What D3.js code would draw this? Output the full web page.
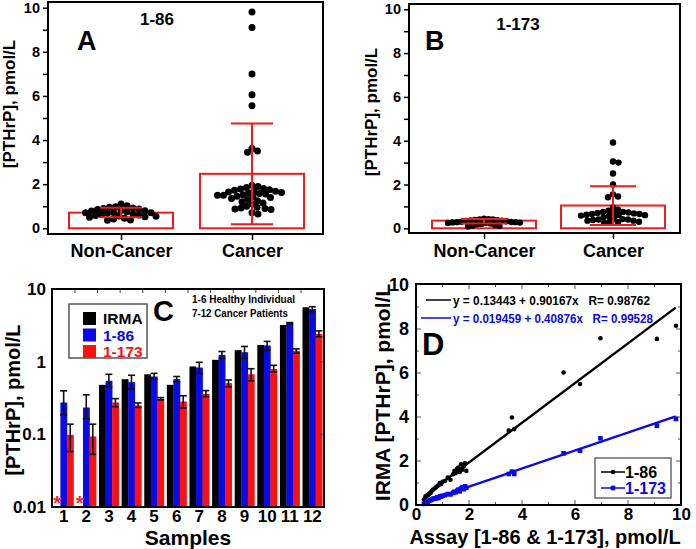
<!DOCTYPE html>
<html><head><meta charset="utf-8">
<script src="https://cdn.jsdelivr.net/npm/d3@7"></script>
<style>
html,body{margin:0;padding:0;background:#fff;}
svg{display:block;}
text{font-family:"Liberation Sans",Arial,sans-serif;font-weight:bold;}
</style></head>
<body><svg id="c" width="696" height="549"></svg>
<script>
// ---------- DATA ----------
// Panel A (1-86)
const groupsAB = ["Non-Cancer", "Cancer"];
const aNonCancer = [1.1,1.02,0.98,0.95,0.92,0.9,0.88,0.85,0.82,0.8,0.78,0.75,0.72,0.7,0.7,0.68,0.65,0.62,0.6,0.58,0.56,0.55,0.52,0.5,0.45,0.42,0.38,0.36];
const aCancer = [9.8,9.1,7.0,6.05,5.55,3.62,3.5,3.45,1.95,1.9,1.85,1.8,1.78,1.75,1.72,1.7,1.68,1.65,1.62,1.6,1.58,1.55,1.52,1.5,1.5,1.45,1.42,1.4,1.35,1.3,1.25,1.2,1.15,1.1,1.0,0.95,0.92,0.9,0.88,0.85,0.7,0.65];
const aMean = [0.71, 2.47];
const aErrLo = [0.5, 0.18];
const aErrHi = [0.93, 4.75];
// Panel B (1-173)
const bNonCancer = [0.44,0.42,0.4,0.4,0.38,0.37,0.36,0.35,0.33,0.32,0.3,0.29,0.28,0.28,0.27,0.26,0.25,0.24,0.22,0.2,0.18,0.15,0.12,0.1,0.08];
const bCancer = [3.92,3.05,3.0,2.5,2.0,1.55,1.45,1.42,0.95,0.85,0.8,0.75,0.75,0.72,0.7,0.7,0.68,0.65,0.65,0.62,0.6,0.6,0.58,0.55,0.5,0.45,0.42,0.4,0.4,0.38,0.35,0.35,0.3,0.3,0.28,0.25];
const bMean = [0.35, 1.04];
const bErrLo = [0.22, 0.15];
const bErrHi = [0.42, 1.92];
const yTicksAB = [0, 2, 4, 6, 8, 10];
// Panel C
const samples = ["1","2","3","4","5","6","7","8","9","10","11","12"];
const seriesC = ["IRMA", "1-86", "1-173"];
const irma   = [null, null, 0.48, 0.574, 0.67, 0.48, 0.86, 1.06, 1.44, 1.70, 3.2, 5.6];
const c186   = [0.274, 0.234, 0.545, 0.522, 0.625, 0.575, 0.83, 1.24, 1.35, 1.67, 3.38, 5.3];
const c186Lo = [0.186, 0.164, 0.45, 0.42, 0.575, 0.53, 0.69, 1.11, 1.11, 1.44, 3.3, 4.9];
const c186Hi = [0.397, 0.35, 0.67, 0.65, 0.69, 0.625, 0.98, 1.38, 1.62, 1.9, 3.45, 5.7];
const c173   = [0.0986, 0.0936, 0.274, 0.25, 0.308, 0.283, 0.36, 0.506, 0.67, 0.79, 1.41, 2.41];
const c173Lo = [0.058, 0.053, 0.24, 0.235, 0.297, 0.23, 0.33, 0.45, 0.545, 0.72, 1.31, 2.2];
const c173Hi = [0.138, 0.138, 0.31, 0.27, 0.32, 0.34, 0.4, 0.56, 0.8, 0.89, 1.5, 2.65];
const yTicksC = [0.01, 0.1, 1, 10];
const yTickLabelsC = ["0.01", "0.1", "1", "10"];
// Panel D
const dX    = [0.3,0.35,0.4,0.45,0.5,0.55,0.6,0.65,0.7,0.75,0.8,0.85,0.9,0.95,1.0,1.1,1.2,1.3,1.4,1.45,1.5,1.55,1.6,1.65,1.7,1.75,1.8,1.85,1.9,3.5,3.62,3.71,5.57,6.19,6.96,9.09,9.81];
const dY186 = [0.25,0.35,0.4,0.45,0.5,0.55,0.65,0.7,0.75,0.8,0.85,0.9,1.0,0.95,1.05,1.1,1.25,1.15,1.4,1.55,1.45,1.65,1.7,1.5,1.85,1.6,1.75,1.9,1.55,3.38,3.98,3.45,6.02,5.5,7.58,7.55,8.15];
const dY173 = [0.05,0.1,0.12,0.15,0.2,0.22,0.25,0.28,0.3,0.3,0.35,0.32,0.4,0.38,0.42,0.45,0.5,0.48,0.55,0.6,0.58,0.65,0.7,0.62,0.75,0.8,0.72,0.85,0.78,1.41,1.52,1.41,2.35,2.47,3.03,3.6,3.91];
const fitIntercept = [0.13443, 0.019459];
const fitSlope = [0.90167, 0.40876];
const fitRange = [0.3, 9.8];
const fitLabels = ["y = 0.13443 + 0.90167x   R= 0.98762", "y = 0.019459 + 0.40876x   R= 0.99528"];
const seriesD = ["1-86", "1-173"];
const ticksD = [0, 2, 4, 6, 8, 10];

// ---------- DRAW ----------
const svg = d3.select("#c");
const RED = "#ee1c1c", BLUE = "#0a0ae6";
const LETTER_FONT = "Lato, 'Open Sans', sans-serif";

function swarm(vals, y, cx, r, f) {
  const pts = vals.map(v => ({v, y: y(v)})).sort((a, b) => b.v - a.v);
  const placed = [];
  const d2 = (2 * r * f) ** 2;
  pts.forEach(p => {
    for (let dx = 0; dx < 200; dx += 0.5) {
      let ok = false;
      for (const s of (dx === 0 ? [0] : [dx, -dx])) {
        const x = cx + s;
        if (placed.every(q => (q.x - x) ** 2 + (q.y - p.y) ** 2 >= d2)) { p.x = x; ok = true; break; }
      }
      if (ok) break;
    }
    placed.push(p);
  });
  return placed;
}

function boxPanel(opt) {
  const g = svg.append("g");
  const y = d3.scaleLinear().domain([0, 10]).range([opt.y0, opt.y10]);
  const x = d3.scalePoint().domain(groupsAB).range(opt.xc);
  const ya = d3.axisLeft(y).tickValues(d3.range(0, 11, 1)).tickSize(5)
    .tickFormat(d => yTicksAB.includes(d) ? d : "");
  const yg = g.append("g").attr("transform", `translate(${opt.left},0)`).call(ya);
  const xa = d3.axisBottom(x).tickSize(6).tickFormat(d => d);
  const xg = g.append("g").attr("transform", `translate(0,${opt.bottom})`).call(xa);
  [yg, xg].forEach(a => { a.select(".domain").remove(); a.selectAll("line").attr("stroke", "#000").attr("stroke-width", 1.5); });
  yg.selectAll("text").attr("font-size", 14.5).attr("font-weight", "bold").attr("fill", "#000").attr("x", -8)
    .attr("font-family", "Liberation Sans, Arial");
  xg.selectAll("text").attr("font-size", 18).attr("font-weight", "bold").attr("fill", "#000").attr("dy", opt.xdy)
    .attr("font-family", "Liberation Sans, Arial");
  g.append("rect").attr("x", opt.left).attr("y", opt.top).attr("width", opt.right - opt.left).attr("height", opt.bottom - opt.top)
    .attr("fill", "none").attr("stroke", "#000").attr("stroke-width", 2);
  groupsAB.forEach((gname, i) => {
    g.append("rect").attr("x", x(gname) - opt.bw / 2).attr("y", y(opt.mean[i])).attr("width", opt.bw)
      .attr("height", y(0) - y(opt.mean[i])).attr("fill", "none").attr("stroke", RED).attr("stroke-width", 2);
  });
  [opt.non, opt.can].forEach((vals, i) => {
    const pts = swarm(vals, y, x(groupsAB[i]), opt.r, opt.f[i]);
    g.selectAll(null).data(pts).enter().append("circle").attr("cx", d => d.x).attr("cy", d => d.y).attr("r", opt.r).attr("fill", "#000");
  });
  groupsAB.forEach((gname, i) => {
    const cx = x(gname);
    g.append("line").attr("x1", cx).attr("x2", cx).attr("y1", y(opt.lo[i])).attr("y2", y(opt.hi[i])).attr("stroke", RED).attr("stroke-width", 2);
    [opt.lo[i], opt.hi[i]].forEach(v => g.append("line").attr("x1", cx - opt.cap / 2).attr("x2", cx + opt.cap / 2)
      .attr("y1", y(v)).attr("y2", y(v)).attr("stroke", RED).attr("stroke-width", 2));
  });
  g.append("text").attr("transform", `translate(${opt.ylabX},${opt.ylabY}) rotate(-90)`)
    .attr("text-anchor", "middle").attr("font-size", 17).text("[PTHrP], pmol/L");
  g.append("text").attr("x", opt.titleX).attr("y", opt.titleY).attr("text-anchor", "middle").attr("font-size", 17).text(opt.title);
  g.append("text").attr("x", opt.letterX).attr("y", 50).attr("font-size", 27).attr("font-family", LETTER_FONT)
    .attr("font-weight", 900).text(opt.letter);
}

boxPanel({left: 48, right: 323, top: 2, bottom: 234, y0: 228.3, y10: 7.7, xc: [121, 252], bw: 104, cap: 42, r: 3.5, f: [0.85, 0.82],
  non: aNonCancer, can: aCancer, mean: aMean, lo: aErrLo, hi: aErrHi, ylabX: 15, ylabY: 104, title: "1-86", titleX: 157, titleY: 25,
  letter: "A", letterX: 77, xdy: "0.8em"});
boxPanel({left: 409, right: 680, top: 4, bottom: 233, y0: 228.3, y10: 9.3, xc: [484, 613], bw: 104, cap: 46, r: 3.2, f: [0.7, 0.85],
  non: bNonCancer, can: bCancer, mean: bMean, lo: bErrLo, hi: bErrHi, ylabX: 377, ylabY: 112, title: "1-173", titleX: 518, titleY: 30,
  letter: "B", letterX: 425, xdy: "0.85em"});

// ---------- Panel C ----------
(function () {
  const L = 52, R = 324, T = 289, B = 507;
  const g = svg.append("g");
  const y = d3.scaleLog().domain([0.01, 10]).range([B, T]);
  const x = d3.scaleBand().domain(samples).range([L, R]).paddingInner(0.13).paddingOuter(0.08);
  const xs = d3.scaleBand().domain(seriesC).range([0, x.bandwidth()]);
  const col = d3.scaleOrdinal().domain(seriesC).range(["#000000", BLUE, "#ff1010"]);
  const vals = [irma, c186, c173];
  const rows = [];
  samples.forEach((s, i) => seriesC.forEach((k, j) => { if (vals[j][i] != null) rows.push({s, k, v: vals[j][i]}); }));
  g.selectAll(null).data(rows).enter().append("rect")
    .attr("x", d => x(d.s) + xs(d.k)).attr("width", xs.bandwidth() + 0.3)
    .attr("y", d => y(d.v)).attr("height", d => y(0.01) - y(d.v)).attr("fill", d => col(d.k));
  const errs = [];
  samples.forEach((s, i) => {
    errs.push({s, k: "1-86", lo: c186Lo[i], hi: c186Hi[i]});
    errs.push({s, k: "1-173", lo: c173Lo[i], hi: c173Hi[i]});
  });
  errs.forEach(e => {
    const cx = x(e.s) + xs(e.k) + xs.bandwidth() / 2;
    g.append("line").attr("x1", cx).attr("x2", cx).attr("y1", y(e.lo)).attr("y2", y(e.hi)).attr("stroke", "#111").attr("stroke-width", 1.6);
    [e.lo, e.hi].forEach(v => g.append("line").attr("x1", cx - 3.5).attr("x2", cx + 3.5).attr("y1", y(v)).attr("y2", y(v))
      .attr("stroke", "#111").attr("stroke-width", 1.6));
  });
  ["1", "2"].forEach(s => g.append("text").attr("x", x(s) + xs("IRMA") + xs.bandwidth() / 2).attr("y", B + 3)
    .attr("text-anchor", "middle").attr("fill", "#ff2020").attr("font-size", 20).text("*"));
  const ya = d3.axisLeft(y).tickValues(yTicksC).tickSize(0).tickFormat((d, i) => yTickLabelsC[i]);
  const yg = g.append("g").attr("transform", `translate(${L},0)`).call(ya);
  yg.select(".domain").remove();
  yg.selectAll("text").attr("font-size", 17).attr("fill", "#000").attr("x", -6).attr("font-family", "Liberation Sans, Arial").attr("font-weight", "bold");
  const xa = d3.axisBottom(x).tickSize(0);
  const xg = g.append("g").attr("transform", `translate(0,${B})`).call(xa);
  xg.select(".domain").remove();
  xg.selectAll("text").attr("font-size", 17).attr("fill", "#000").attr("dy", "0.7em").attr("font-family", "Liberation Sans, Arial").attr("font-weight", "bold");
  g.selectAll(null).data(samples.slice(1)).enter().append("line")
    .attr("x1", d => x(d) - x.step() * x.paddingInner() / 2).attr("x2", d => x(d) - x.step() * x.paddingInner() / 2)
    .attr("y1", T).attr("y2", T + 4).attr("stroke", "#444").attr("stroke-width", 1);
  g.selectAll(null).data([0.1, 1]).enter().append("line").attr("x1", R - 4).attr("x2", R).attr("y1", d => y(d)).attr("y2", d => y(d))
    .attr("stroke", "#444").attr("stroke-width", 1);
  g.append("rect").attr("x", L).attr("y", T).attr("width", R - L).attr("height", B - T).attr("fill", "none").attr("stroke", "#000").attr("stroke-width", 2);
  g.append("text").attr("transform", `translate(20,${(T + B) / 2 + 2}) rotate(-90)`).attr("text-anchor", "middle").attr("font-size", 20).text("[PTHrP], pmol/L");
  g.append("text").attr("x", (L + R) / 2).attr("y", 545).attr("text-anchor", "middle").attr("font-size", 21).text("Samples");
  g.append("text").attr("x", 153).attr("y", 321).attr("font-size", 29).attr("font-family", LETTER_FONT).attr("font-weight", 900).text("C");
  g.append("text").attr("x", 192).attr("y", 303).attr("font-size", 11).attr("font-family", LETTER_FONT).attr("font-weight", 700)
    .attr("textLength", 103).attr("lengthAdjust", "spacingAndGlyphs").text("1-6 Healthy Individual");
  g.append("text").attr("x", 192).attr("y", 317).attr("font-size", 11).attr("font-family", LETTER_FONT).attr("font-weight", 700)
    .attr("textLength", 96).attr("lengthAdjust", "spacingAndGlyphs").text("7-12 Cancer Patients");
  const lg = g.append("g").attr("transform", "translate(69,304)");
  lg.append("rect").attr("width", 78).attr("height", 54).attr("fill", "#fff").attr("stroke", "#555").attr("stroke-width", 1.5);
  seriesC.forEach((k, i) => {
    lg.append("rect").attr("x", 14).attr("y", 8 + i * 16.5).attr("width", 13).attr("height", 13).attr("fill", col(k));
    lg.append("text").attr("x", 34).attr("y", 20 + i * 16.5).attr("font-size", 15.5).attr("fill", i === 0 ? "#000" : col(k)).text(k);
  });
})();

// ---------- Panel D ----------
(function () {
  const L = 416, R = 681, T = 284, B = 505;
  const g = svg.append("g");
  const x = d3.scaleLinear().domain([0, 10]).range([L, R]);
  const y = d3.scaleLinear().domain([0, 10]).range([B, B - 220]);
  const cols = ["#000", BLUE];
  const xa = d3.axisBottom(x).tickValues(ticksD).tickSize(0);
  const xg = g.append("g").attr("transform", `translate(0,${B})`).call(xa);
  xg.select(".domain").remove();
  xg.selectAll("text").attr("font-size", 17).attr("fill", "#000").attr("dy", "0.72em").attr("font-family", "Liberation Sans, Arial").attr("font-weight", "bold");
  const ya = d3.axisLeft(y).tickValues(ticksD).tickSize(0);
  const yg = g.append("g").attr("transform", `translate(${L},0)`).call(ya);
  yg.select(".domain").remove();
  yg.selectAll("text").attr("font-size", 18).attr("fill", "#000").attr("x", -7).attr("font-family", "Liberation Sans, Arial").attr("font-weight", "bold");
  const tk = [1, 2, 3, 4, 5, 6, 7, 8, 9];
  tk.forEach(t => {
    const len = t % 2 === 0 ? 5 : 3;
    g.append("line").attr("x1", x(t)).attr("x2", x(t)).attr("y1", B).attr("y2", B - len).attr("stroke", "#555");
    g.append("line").attr("x1", x(t)).attr("x2", x(t)).attr("y1", T).attr("y2", T + len).attr("stroke", "#555");
    g.append("line").attr("x1", L).attr("x2", L + len).attr("y1", y(t)).attr("y2", y(t)).attr("stroke", "#555");
    g.append("line").attr("x1", R).attr("x2", R - len).attr("y1", y(t)).attr("y2", y(t)).attr("stroke", "#555");
  });
  [0, 1].forEach(k => {
    const line = d3.line().x(d => x(d)).y(d => y(fitIntercept[k] + fitSlope[k] * d));
    g.append("path").datum(fitRange).attr("d", line).attr("stroke", cols[k]).attr("stroke-width", 2.4).attr("fill", "none");
  });
  g.selectAll(null).data(dX.map((v, i) => [v, dY186[i]])).enter().append("circle")
    .attr("cx", d => x(d[0])).attr("cy", d => y(d[1])).attr("r", 2.3).attr("fill", "#000");
  g.selectAll(null).data(dX.map((v, i) => [v, dY173[i]])).enter().append("rect")
    .attr("x", d => x(d[0]) - 2.3).attr("y", d => y(d[1]) - 2.3).attr("width", 4.6).attr("height", 4.6).attr("fill", BLUE);
  g.append("rect").attr("x", L).attr("y", T).attr("width", R - L).attr("height", B - T).attr("fill", "none").attr("stroke", "#000").attr("stroke-width", 2);
  [0, 1].forEach(k => {
    const yy = 300 + k * 18;
    g.append("line").attr("x1", k ? 421 : 426).attr("x2", 451).attr("y1", yy).attr("y2", yy).attr("stroke", cols[k]).attr("stroke-width", 1.5);
    g.append("text").attr("x", 453).attr("y", yy + 4.5).attr("font-size", 12.5).attr("fill", cols[k]).attr("xml:space", "preserve")
      .attr("textLength", k ? 200 : 197).attr("lengthAdjust", "spacingAndGlyphs").text(fitLabels[k]);
  });
  g.append("text").attr("x", 422).attr("y", 355).attr("font-size", 31).attr("font-family", LETTER_FONT).attr("font-weight", 900).text("D");
  const lg = g.append("g").attr("transform", "translate(595,458)");
  lg.append("rect").attr("width", 76).attr("height", 40).attr("fill", "#fff").attr("stroke", "#444").attr("stroke-width", 1.2);
  [0, 1].forEach(k => {
    const yy = 14 + k * 16;
    lg.append("line").attr("x1", 6).attr("x2", 30).attr("y1", yy).attr("y2", yy).attr("stroke", cols[k]).attr("stroke-width", 1.5);
    if (k === 0) lg.append("circle").attr("cx", 18).attr("cy", yy).attr("r", 2.3).attr("fill", "#000");
    else lg.append("rect").attr("x", 15.7).attr("y", yy - 2.3).attr("width", 4.6).attr("height", 4.6).attr("fill", BLUE);
    lg.append("text").attr("x", 30).attr("y", yy + 6).attr("font-size", 16).attr("fill", cols[k]).text(seriesD[k]);
  });
  g.append("text").attr("transform", `translate(390,${(T + B) / 2 - 2}) rotate(-90)`).attr("text-anchor", "middle").attr("font-size", 21).text("IRMA [PTHrP], pmol/L");
  g.append("text").attr("x", 545).attr("y", 544).attr("text-anchor", "middle").attr("font-size", 20).text("Assay [1-86 & 1-173], pmol/L");
})();
</script></body></html>
